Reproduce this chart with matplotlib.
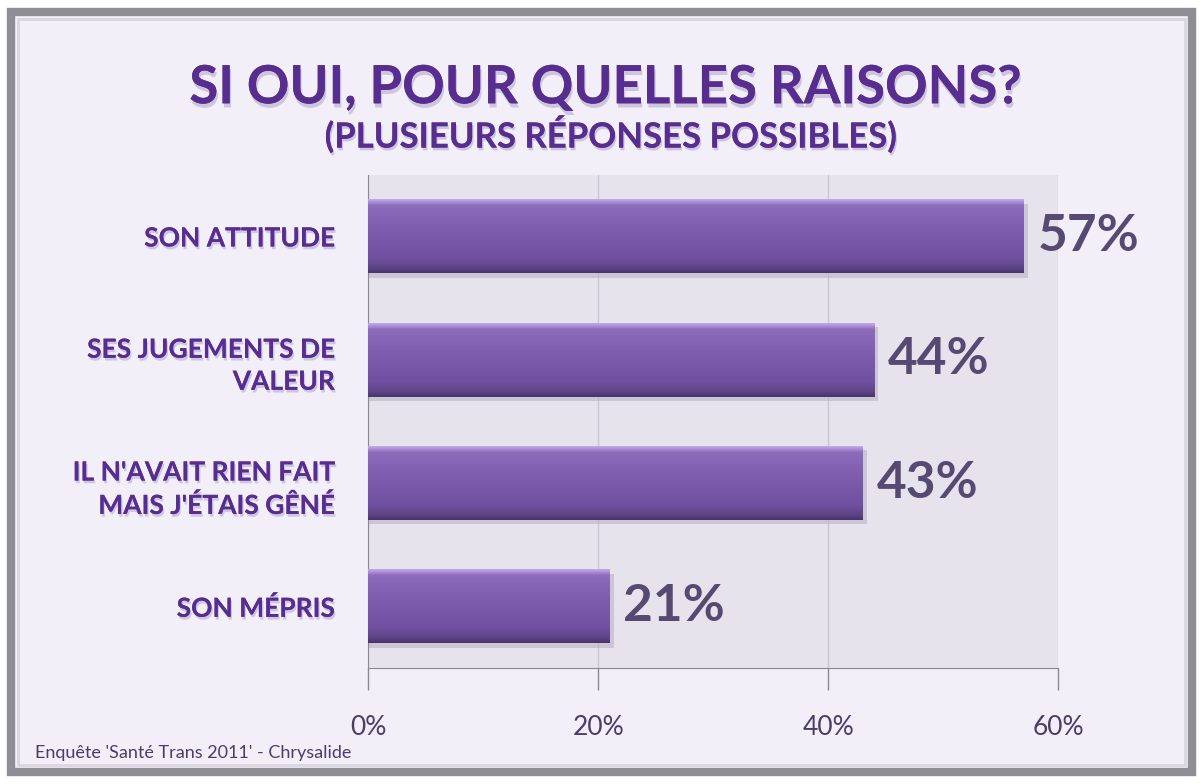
import numpy as np
import matplotlib
matplotlib.use("Agg")
import matplotlib.pyplot as plt
from matplotlib import font_manager
from matplotlib.patches import Rectangle
import matplotlib.patheffects as pe

# données
categories = ["SON ATTITUDE", "SES JUGEMENTS DE\nVALEUR",
              "IL N'AVAIT RIEN FAIT\nMAIS J'ÉTAIS GÊNÉ", "SON MÉPRIS"]
values = [57, 44, 43, 21]
xticks = [0, 20, 40, 60]
xtick_labels = ["0%", "20%", "40%", "60%"]

title = "SI OUI, POUR QUELLES RAISONS?"
subtitle = "(PLUSIEURS RÉPONSES POSSIBLES)"
source = "Enquête 'Santé Trans 2011' - Chrysalide"


def pick_font(names):
    have = {f.name for f in font_manager.fontManager.ttflist}
    for n in names:
        if n in have:
            return n
    return "DejaVu Sans"


FONT = pick_font(["Lato", "Open Sans", "DejaVu Sans"])
plt.rcParams["font.family"] = [FONT, "DejaVu Sans"]

PURPLE = "#572e90"
TEXT = "#574a72"

fig = plt.figure(figsize=(12.03, 7.84), dpi=100, facecolor="white")

# cadre
frame = Rectangle((0.009, 0.015), 0.982, 0.97, transform=fig.transFigure,
                  facecolor="#f2eff9", edgecolor="#8e8e94", linewidth=6, zorder=-5)
fig.patches.append(frame)
inner = Rectangle((0.015, 0.024), 0.970, 0.952, transform=fig.transFigure,
                  facecolor="none", edgecolor="#d9d6df", linewidth=2, zorder=-4)
fig.patches.append(inner)

ax = fig.add_axes([0.306, 0.148, 0.5736, 0.629])
ax.set_facecolor("#e6e3ed")

y = np.arange(len(categories))
bars = ax.barh(y, values, height=0.6, color="#7a58a8", zorder=3)

# dégradé sur les barres
grad = np.linspace(0, 1, 100).reshape(-1, 1)
cmap = matplotlib.colors.LinearSegmentedColormap.from_list(
    "bar", [(0, "#c0a8ea"), (0.08, "#8e6cbc"), (0.4, "#7f5dae"),
            (0.8, "#7050a0"), (0.93, "#5f4488"), (1, "#4a346c")])
for b in bars:
    x0, y0 = b.get_x(), b.get_y()
    w, h = b.get_width(), b.get_height()
    # ombre
    sh = Rectangle((x0, y0 + h * 0.06), w + 0.35, h, facecolor="#b9b3c6",
                   edgecolor="none", alpha=0.6, zorder=2)
    ax.add_patch(sh)
    im = ax.imshow(grad, extent=(x0, x0 + w, y0 + h, y0), aspect="auto",
                   cmap=cmap, zorder=4)
    im.set_clip_path(b)

for v, yi in zip(values, y):
    ax.text(v + 1.2, yi, f"{v}%", va="center", ha="left", fontsize=37,
            fontweight="bold", color=TEXT, zorder=5)

ax.set_xlim(0, 60)
ax.set_xticks(xticks)
ax.set_xticklabels(xtick_labels, fontsize=19, color="#4b3d66")
ax.set_yticks(y)
ax.set_yticklabels(categories, fontsize=19, fontweight="bold", color=PURPLE,
                   linespacing=1.4)
for lab in ax.get_yticklabels():
    lab.set_multialignment("right")
    lab.set_path_effects([pe.withSimplePatchShadow(offset=(1, -2), shadow_rgbFace="#b8acd0",
                                                   alpha=0.6), pe.Normal()])
ax.tick_params(axis="y", length=0, pad=24)
ax.tick_params(axis="x", length=16, width=1, color="#8a8a90", pad=18, direction="out")
ax.grid(axis="x", color="#c9c6d2", linewidth=1, zorder=1)
ax.set_axisbelow(True)
for s in ["top", "right"]:
    ax.spines[s].set_visible(False)
ax.spines["left"].set_color("#8a8a90")
ax.spines["bottom"].set_color("#8a8a90")
ax.set_ylim(len(categories) - 0.5, -0.5)

t = fig.text(0.503, 0.888, title, ha="center", va="center", fontsize=38,
             fontweight="bold", color=PURPLE)
t.set_path_effects([pe.withSimplePatchShadow(offset=(1, -3), shadow_rgbFace="#b6a8cc",
                                             alpha=0.6), pe.Normal()])
st = fig.text(0.508, 0.828, subtitle, ha="center", va="center", fontsize=25,
              fontweight="bold", color=PURPLE)
st.set_path_effects([pe.withSimplePatchShadow(offset=(1, -2), shadow_rgbFace="#b6a8cc",
                                              alpha=0.6), pe.Normal()])

fig.text(0.029, 0.04, source, ha="left", va="center", fontsize=13, color="#4b3d66")

fig.savefig("out.png", dpi=100, facecolor="white")
